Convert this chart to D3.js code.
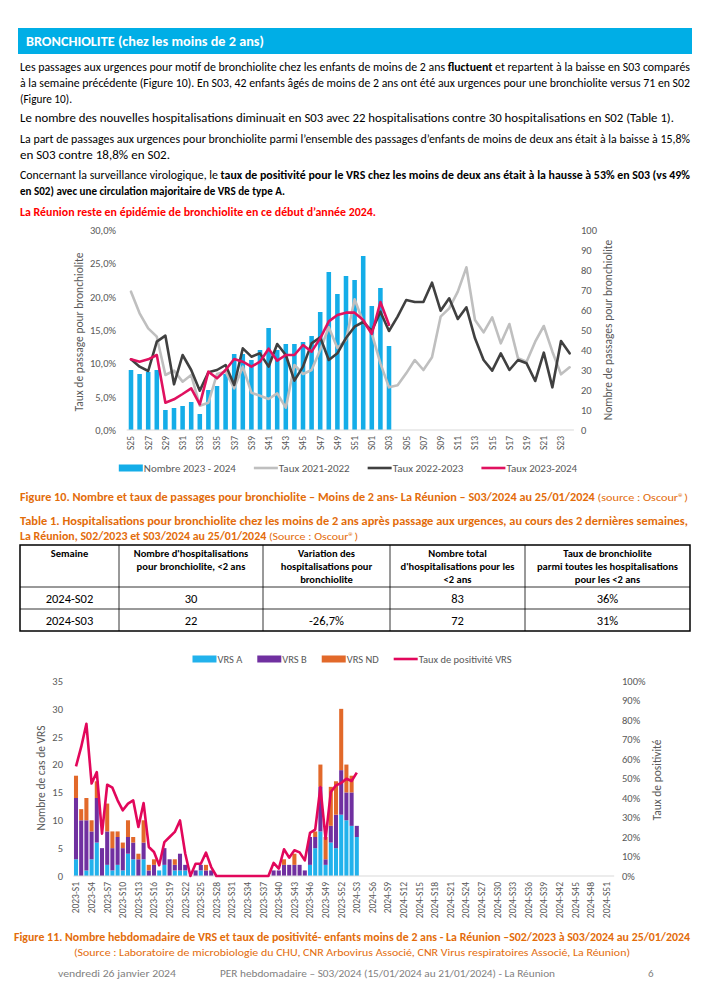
<!DOCTYPE html>
<html><head><meta charset="utf-8">
<script src="https://cdn.jsdelivr.net/npm/d3@7"></script>
<style>body{margin:0;background:#fff}svg{display:block}</style>
</head><body>
<svg id="page" width="707" height="1000"></svg>
<script>
// ---------- DATA ----------
const weeksTop = ["S25","S26","S27","S28","S29","S30","S31","S32","S33","S34","S35","S36","S37","S38","S39","S40","S41","S42","S43","S44","S45","S46","S47","S48","S49","S50","S51","S52","S01","S02","S03","S04","S05","S06","S07","S08","S09","S10","S11","S12","S13","S14","S15","S16","S17","S18","S19","S20","S21","S22","S23","S24"];
const nombre2324 = [30,28,29,30,10,11,12,14,8,20,22,28,38,38,35,40,51,40,43,43,44,47,59,79,68,77,75,87,62,71,42];
const taux2122 = [20.75,17.5,15.25,14.0,8.25,8.9,7.25,8.25,3.65,4.1,8.4,8.75,6.25,9.5,5.6,5.15,4.65,5.5,3.35,9.75,8.4,9.0,12.0,15.4,12.3,13.5,19.6,16.2,14.5,10.0,6.4,6.7,8.5,10.5,9.0,10.9,17.0,18.25,20.75,24.4,16.5,14.65,16.9,13.0,15.9,10.75,10.25,13.25,15.6,11.75,8.35,9.4];
const taux2223 = [10.6,9.5,8.85,13.25,14.15,6.85,11.25,9.0,5.9,8.65,9.0,9.75,6.75,12.25,11.0,11.5,9.5,12.9,11.25,7.4,9.5,13.0,13.9,10.5,11.5,13.8,15.5,16.2,14.85,17.75,14.85,17.0,19.5,19.2,19.2,22.1,17.9,19.75,16.65,18.4,13.75,10.5,8.9,11.5,9.0,10.5,10.0,7.35,11.6,6.4,13.35,11.5];
const taux2324 = [10.6,10.25,10.6,11.25,4.1,4.6,5.4,6.25,3.85,8.75,7.75,9.0,10.65,10.25,9.5,10.25,12.2,10.4,11.25,11.25,12.75,11.75,13.75,16.3,17.25,17.6,17.6,16.5,14.4,19.2,15.8];
const leftTicksTop = ["0,0%","5,0%","10,0%","15,0%","20,0%","25,0%","30,0%"];
const rightTicksTop = [0,10,20,30,40,50,60,70,80,90,100];

const weeksBot = [];
[2023,2024].forEach(y => { for (let w = 1; w <= 52; w++) weeksBot.push(y + "-S" + w); });
const vrsA  = [3,0,1,3,6,0,2,1,2,1,4,3,0,3,0,0,1,2,0,1,1,1,0,0,1,0,0, 0,0,0,0,0,0,0,0,0,0,0, 0,0,0,0,0,0,0,2,5,8,2,6,5,11,10,9,7];
const vrsB  = [11,10,9,5,8,5,6,4,5,4,3,3,3,3,1,2,0,3,3,1,3,1,0,1,1,1,1, 0,0,0,0,0,0,0,0,0,0,0, 1,1,2,2,2,2,1,5,2,8,1,3,6,8,5,6,2];
const vrsND = [4,2,4,2,3,0,5,3,1,1,3,1,1,4,1,1,0,0,0,1,0,0,0,0,0,1,0, 0,0,0,0,0,0,0,0,0,0,0, 0,0,1,0,2,0,0,0,1,4,4,7,6,11,5,3,0];
const positivite = [56.2,66.2,78.1,47.4,53.3,21.7,46.8,45.3,38.8,33.7,37.1,38.8,25.1,37.4,14.9,12.3,5.5,17.4,20.0,22.6,28.5,11.5,0,6.3,6.3,12.0,4.6, 0,0,0,0,0,0,0,0,0,0,0, 6.7,3.8,13.7,9.4,13.2,12.1,8.0,22.1,23.8,45.6,19.1,43.1,46.5,47.7,49.9,48.7,53.0];
const leftTicksBot = [0,5,10,15,20,25,30,35];
const rightTicksBot = ["0%","10%","20%","30%","40%","50%","60%","70%","80%","90%","100%"];

const tableHeader = [["Semaine"],["Nombre d'hospitalisations","pour bronchiolite, <2 ans"],["Variation des","hospitalisations pour","bronchiolite"],["Nombre total","d'hospitalisations pour les","<2 ans"],["Taux de bronchiolite","parmi toutes les hospitalisations","pour les <2 ans"]];
const tableRows = [["2024-S02","30","","83","36%"],["2024-S03","22","-26,7%","72","31%"]];

// ---------- STYLE ----------
const FONT = "Carlito, 'Liberation Sans', Arial, sans-serif";
const C = {cyan:"#14ADE8", grey:"#BFBFBF", dark:"#404040", red:"#E0115F", axis:"#595959",
  vA:"#22B2EC", vB:"#7030A0", vND:"#E2692A", pos:"#E2075B", orange:"#E36C0A", head:"#00AEE6"};

const svg = d3.select("#page").style("font-family", FONT);

function textLine(x, y, parts, opts) {
  const t = svg.append("text").attr("x", x).attr("y", y)
    .attr("font-size", opts.size).attr("fill", opts.color || "#000")
    .attr("text-anchor", opts.anchor || "start");
  parts.forEach(p => t.append("tspan").text(p[0]).attr("font-weight", p[1] ? "bold" : "normal"));
  if (opts.width) t.attr("textLength", opts.width).attr("lengthAdjust", "spacingAndGlyphs");
  return t;
}

// ---------- HEADER ----------
svg.append("rect").attr("x", 18).attr("y", 28).attr("width", 674).attr("height", 26).attr("fill", C.head);
textLine(26, 46, [["BRONCHIOLITE (chez les moins de 2 ans)", 1]], {size: 13, color: "#fff", width: 238});

// ---------- BODY TEXT ----------
const body = [
  {y:71, parts:[["Les passages aux urgences pour motif de bronchiolite chez les enfants de moins de 2 ans ",0],["fluctuent",1],[" et repartent à la baisse en S03 comparés",0]], w:670},
  {y:87, parts:[["à la semaine précédente (Figure 10). En S03, 42 enfants âgés de moins de 2 ans ont été aux urgences pour une bronchiolite versus 71 en S02",0]], w:670},
  {y:103, parts:[["(Figure 10).",0]], w:52},
  {y:122, parts:[["Le nombre des nouvelles hospitalisations diminuait en S03 avec 22 hospitalisations contre 30 hospitalisations en S02 (Table 1).",0]], w:654},
  {y:143, parts:[["La part de passages aux urgences pour bronchiolite parmi l’ensemble des passages d’enfants de moins de deux ans était à la baisse à 15,8%",0]], w:670},
  {y:159, parts:[["en S03 contre 18,8% en S02.",0]], w:150},
  {y:179, parts:[["Concernant la surveillance virologique, le ",0],["taux de positivité pour le VRS chez les moins de deux ans était à la hausse à 53% en S03 (vs 49%",1]], w:670},
  {y:195, parts:[["en S02) avec une circulation majoritaire de VRS de type A.",1]], w:265},
];
body.forEach(l => textLine(20, l.y, l.parts, {size: 11.5, width: l.w}));
textLine(20, 216, [["La Réunion reste en épidémie de bronchiolite en ce début d’année 2024.",1]], {size: 11.5, color: "#FF0000", width: 356});

// ---------- TOP CHART ----------
const yT0 = 430, yT1 = 230;
const xT = d3.scaleBand().domain(weeksTop).range([126.7, 573.9]).paddingInner(0.47).paddingOuter(0.235);
const yL = d3.scaleLinear().domain([0, 30]).range([yT0, yT1]);
const yR = d3.scaleLinear().domain([0, 100]).range([yT0, yT1]);
const cx = d => xT(d) + xT.bandwidth() / 2;

svg.append("g").selectAll("rect").data(nombre2324).join("rect")
  .attr("x", (d, i) => xT(weeksTop[i])).attr("width", xT.bandwidth())
  .attr("y", d => yR(d)).attr("height", d => yT0 - yR(d)).attr("fill", C.cyan);

svg.append("line").attr("x1", 126.7).attr("x2", 573.9).attr("y1", yT0).attr("y2", yT0).attr("stroke", "#D9D9D9");

const lineT = d3.line().x((d, i) => cx(weeksTop[i])).y(d => yL(d));
[[taux2122, C.grey], [taux2223, C.dark], [taux2324, C.red]].forEach(([data, col]) => {
  svg.append("path").datum(data).attr("d", lineT).attr("fill", "none").attr("stroke", col)
    .attr("stroke-width", 2.6).attr("stroke-linejoin", "round").attr("stroke-linecap", "round");
});

const axL = svg.append("g").attr("transform", "translate(116,0)")
  .call(d3.axisLeft(yL).tickValues([0,5,10,15,20,25,30]).tickSize(0).tickPadding(0).tickFormat((d, i) => leftTicksTop[i]));
const axR = svg.append("g").attr("transform", "translate(581,0)")
  .call(d3.axisRight(yR).tickValues(rightTicksTop).tickSize(0).tickPadding(0));
const axX = svg.append("g").attr("transform", `translate(0,${yT0})`)
  .call(d3.axisBottom(xT).tickValues(weeksTop.filter((d, i) => i % 2 === 0)).tickSize(0));
[axL, axR, axX].forEach(a => { a.select(".domain").remove(); a.selectAll("text").attr("fill", C.axis).attr("font-size", 10.5).style("font-family", FONT); });
axX.selectAll("text").attr("transform", "rotate(-90)").attr("x", -6).attr("y", 0).attr("dy", "0.35em").attr("text-anchor", "end").attr("font-size", 9.5);

svg.append("text").attr("transform", "translate(83,332) rotate(-90)").attr("text-anchor", "middle")
  .attr("font-size", 11.5).attr("fill", C.axis).text("Taux de passage pour bronchiolite");
svg.append("text").attr("transform", "translate(612,330) rotate(-90)").attr("text-anchor", "middle")
  .attr("font-size", 11.5).attr("fill", C.axis).text("Nombre de passages pour bronchiolite");

function legend(items, centerX, y, size, gap) {
  const g = svg.append("g");
  let x = 0;
  items.forEach(it => {
    if (it.type === "rect") g.append("rect").attr("x", x).attr("y", y - 3.5).attr("width", 24).attr("height", 7).attr("fill", it.color);
    else g.append("line").attr("x1", x).attr("x2", x + 24).attr("y1", y).attr("y2", y).attr("stroke", it.color).attr("stroke-width", 2.6);
    x += 25;
    const t = g.append("text").attr("x", x).attr("y", y).attr("dy", "0.35em").attr("font-size", size).attr("fill", C.axis).text(it.label);
    x += t.node().getComputedTextLength() + gap;
  });
  g.attr("transform", `translate(${centerX - (x - gap) / 2},0)`);
}
legend([{type:"rect", color:C.cyan, label:"Nombre 2023 - 2024"},
        {type:"line", color:C.grey, label:"Taux 2021-2022"},
        {type:"line", color:C.dark, label:"Taux 2022-2023"},
        {type:"line", color:C.red, label:"Taux 2023-2024"}], 348, 468, 11, 18);

// ---------- CAPTIONS ----------
textLine(20, 501, [["Figure 10. Nombre et taux de passages pour bronchiolite – Moins de 2 ans- La Réunion – S03/2024 au 25/01/2024 ",1],["(source : Oscour®)",0]], {size:11, color:C.orange, width:668});
textLine(20, 525, [["Table 1. Hospitalisations pour bronchiolite chez les moins de 2 ans après passage aux urgences, au cours des 2 dernières semaines,",1]], {size:11, color:C.orange, width:668});
textLine(20, 540, [["La Réunion, S02/2023 et S03/2024 au 25/01/2024 ",1],["(Source : Oscour®)",0]], {size:11, color:C.orange, width:338});

// ---------- TABLE ----------
const colX = [20, 119, 263, 390, 525, 690];
const rowY = [545, 587, 609, 631];
const tg = svg.append("g");
tableHeader.forEach((lines, c) => {
  const mid = (colX[c] + colX[c + 1]) / 2;
  lines.forEach((ln, k) => tg.append("text").attr("x", mid).attr("y", 557 + k * 13).attr("text-anchor", "middle")
    .attr("font-size", 10.5).attr("font-weight", "bold").text(ln));
});
tableRows.forEach((row, r) => row.forEach((v, c) => {
  const mid = (colX[c] + colX[c + 1]) / 2;
  tg.append("text").attr("x", mid).attr("y", (rowY[r + 1] + rowY[r + 2]) / 2).attr("dy", "0.36em")
    .attr("text-anchor", "middle").attr("font-size", 12.5).text(v);
}));
colX.slice(1, -1).forEach(x => tg.append("line").attr("x1", x).attr("x2", x).attr("y1", rowY[0]).attr("y2", rowY[3]).attr("stroke", "#000").attr("stroke-width", 0.8));
rowY.slice(1, -1).forEach(y => tg.append("line").attr("x1", 20).attr("x2", 690).attr("y1", y).attr("y2", y).attr("stroke", "#000").attr("stroke-width", 0.8));
tg.append("rect").attr("x", 20).attr("y", rowY[0]).attr("width", 670).attr("height", rowY[3] - rowY[0]).attr("fill", "none").attr("stroke", "#000").attr("stroke-width", 1.5);

// ---------- BOTTOM CHART ----------
const yB0 = 876, yB1 = 681;
const xB = d3.scaleBand().domain(weeksBot).range([73.4, 614.2]).paddingInner(0.22).paddingOuter(0.11);
const yBL = d3.scaleLinear().domain([0, 35]).range([yB0, yB1]);
const yBR = d3.scaleLinear().domain([0, 100]).range([yB0, yB1]);
const rows = vrsA.map((a, i) => ({week: weeksBot[i], A: a, B: vrsB[i], ND: vrsND[i]}));
const stack = d3.stack().keys(["A", "B", "ND"])(rows);
const sCol = {A: C.vA, B: C.vB, ND: C.vND};
svg.append("g").selectAll("g").data(stack).join("g").attr("fill", s => sCol[s.key])
  .selectAll("rect").data(s => s).join("rect")
  .attr("x", d => xB(d.data.week)).attr("width", xB.bandwidth())
  .attr("y", d => yBL(d[1])).attr("height", d => yBL(d[0]) - yBL(d[1]));
svg.append("line").attr("x1", 73.4).attr("x2", 614.2).attr("y1", yB0).attr("y2", yB0).attr("stroke", "#D9D9D9");
svg.append("path").datum(positivite)
  .attr("d", d3.line().x((d, i) => xB(weeksBot[i]) + xB.bandwidth() / 2).y(d => yBR(d)))
  .attr("fill", "none").attr("stroke", C.pos).attr("stroke-width", 2.6).attr("stroke-linejoin", "round");

const bL = svg.append("g").attr("transform", "translate(63,0)")
  .call(d3.axisLeft(yBL).tickValues(leftTicksBot).tickSize(0).tickPadding(0));
const bR = svg.append("g").attr("transform", "translate(622,0)")
  .call(d3.axisRight(yBR).tickValues([0,10,20,30,40,50,60,70,80,90,100]).tickSize(0).tickPadding(0).tickFormat((d, i) => rightTicksBot[i]));
const bX = svg.append("g").attr("transform", `translate(0,${yB0})`)
  .call(d3.axisBottom(xB).tickValues(weeksBot.filter((d, i) => i % 3 === 0)).tickSize(0));
[bL, bR, bX].forEach(a => { a.select(".domain").remove(); a.selectAll("text").attr("fill", C.axis).attr("font-size", 10.5).style("font-family", FONT); });
bX.selectAll("text").attr("transform", "rotate(-90)").attr("x", -6).attr("y", 0).attr("dy", "0.35em").attr("text-anchor", "end").attr("font-size", 9.5);

svg.append("text").attr("transform", "translate(45,778) rotate(-90)").attr("text-anchor", "middle")
  .attr("font-size", 11.5).attr("fill", C.axis).text("Nombre de cas de VRS");
svg.append("text").attr("transform", "translate(661,780) rotate(-90)").attr("text-anchor", "middle")
  .attr("font-size", 11.5).attr("fill", C.axis).text("Taux de positivité");

legend([{type:"rect", color:C.vA, label:"VRS A"},
        {type:"rect", color:C.vB, label:"VRS B"},
        {type:"rect", color:C.vND, label:"VRS ND"},
        {type:"line", color:C.pos, label:"Taux de positivité VRS"}], 352, 659, 10.5, 15);

// ---------- FIGURE 11 CAPTION & FOOTER ----------
textLine(352, 941, [["Figure 11. Nombre hebdomadaire de VRS et taux de positivité- enfants moins de 2 ans - La Réunion –S02/2023 à S03/2024 au 25/01/2024",1]], {size:11, color:C.orange, anchor:"middle", width:676});
textLine(352, 956, [["(Source : Laboratoire de microbiologie du CHU, CNR Arbovirus Associé, CNR Virus respiratoires Associé, La Réunion)",0]], {size:11, color:C.orange, anchor:"middle", width:556});
textLine(58, 977, [["vendredi 26 janvier 2024",0]], {size:11, color:"#7F7F7F", width:118});
textLine(220, 977, [["PER hebdomadaire – S03/2024 (15/01/2024 au 21/01/2024) - La Réunion",0]], {size:11, color:"#7F7F7F", width:335});
textLine(648, 977, [["6",0]], {size:11, color:"#7F7F7F"});
</script>
</body></html>
